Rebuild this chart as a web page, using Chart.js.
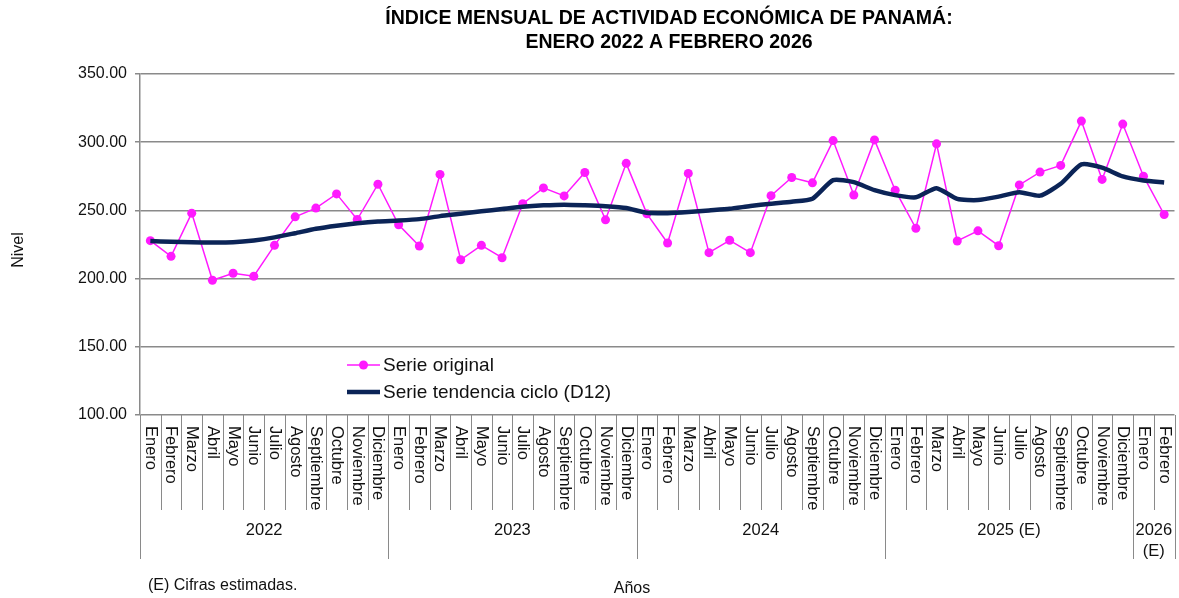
<!DOCTYPE html>
<html>
<head>
<meta charset="utf-8">
<script src="https://cdn.jsdelivr.net/npm/chart.js@4"></script>
<style>
  html, body { margin: 0; padding: 0; background: #fff; }
  #wrap { width: 1179px; height: 598px; }
</style>
</head>
<body>
<div id="wrap"><canvas id="graficoImae" width="1179" height="598"></canvas></div>
<script>
// Meses y años del eje X
const meses = ['Enero', 'Febrero', 'Marzo', 'Abril', 'Mayo', 'Junio', 'Julio', 'Agosto',
    'Septiembre', 'Octubre', 'Noviembre', 'Diciembre'];
const anios = [['2022'], ['2023'], ['2024'], ['2025 (E)'], ['2026', '(E)']];
const mesesPorAnio = [12, 12, 12, 12, 2];

// Valores
const serieOriginal = [
    227.8, 216.3, 248.0, 198.8, 203.9, 201.7, 224.4, 245.3, 251.7, 262.1, 243.3, 269.2,
    239.5, 223.9, 276.4, 213.8, 224.4, 215.3, 254.9, 266.5, 260.6, 277.8, 243.1, 284.5,
    247.5, 226.1, 277.1, 219.0, 228.1, 219.0, 260.8, 274.1, 270.2, 301.2, 261.3, 301.7,
    264.8, 236.9, 298.8, 227.6, 235.0, 224.1, 268.7, 278.1, 283.0, 315.5, 272.7, 313.3,
    275.1, 247.0
];
const serieTendencia = [
    227.5, 227.0, 226.6, 226.5, 226.7, 228.0, 230.2, 233.3, 236.5, 238.8, 240.6, 241.9,
    242.6, 243.6, 245.8, 247.5, 249.3, 251.0, 252.7, 253.7, 254.2, 253.7, 253.0, 251.7,
    248.2, 248.0, 248.8, 250.0, 251.2, 253.2, 254.9, 256.4, 258.6, 272.2, 270.7, 264.8,
    261.2, 259.6, 266.3, 258.4, 257.6, 260.1, 263.3, 260.8, 269.5, 283.7, 281.3, 274.9,
    271.9, 270.4
];

const categorias = [];
mesesPorAnio.forEach(n => {
    for (let i = 0; i < n; i++) categorias.push(meses[i]);
});

const FUENTE = '"Liberation Sans", Arial, sans-serif';
const COLOR_TEXTO = '#111';
const COLOR_LINEAS = '#8a8a8a';

// Dibuja titulo, etiquetas del eje X, leyenda y notas
const textosExtra = {
    id: 'textosExtra',
    afterDraw(chart) {
        const ctx = chart.ctx;
        const x = chart.scales.x;
        const area = chart.chartArea;
        const ancho = x.getPixelForValue(1) - x.getPixelForValue(0);
        ctx.save();

        // titulo
        ctx.fillStyle = '#000';
        ctx.font = 'bold 19.5px ' + FUENTE;
        ctx.textAlign = 'center';
        ctx.textBaseline = 'middle';
        ctx.fillText('ÍNDICE MENSUAL DE ACTIVIDAD ECONÓMICA DE PANAMÁ:', 669, 19);
        ctx.fillText('ENERO 2022 A FEBRERO 2026', 669, 43);

        // titulo eje Y
        ctx.fillStyle = COLOR_TEXTO;
        ctx.font = '16px ' + FUENTE;
        ctx.save();
        ctx.translate(19, 250);
        ctx.rotate(-Math.PI / 2);
        ctx.fillText('Nivel', 0, 0);
        ctx.restore();

        // separadores y meses
        ctx.strokeStyle = COLOR_LINEAS;
        ctx.lineWidth = 1;
        ctx.beginPath();
        ctx.moveTo(area.left + 0.5, area.bottom);
        ctx.lineTo(area.left + 0.5, 559);
        ctx.stroke();

        ctx.font = '16.5px ' + FUENTE;
        let idx = 0;
        mesesPorAnio.forEach((n, a) => {
            const inicio = x.getPixelForValue(idx) - ancho / 2;
            for (let i = 0; i < n; i++) {
                const cx = x.getPixelForValue(idx + i);
                const fin = cx + ancho / 2;
                const ultimo = i === n - 1;
                ctx.beginPath();
                ctx.moveTo(Math.round(fin) + 0.5, area.bottom);
                ctx.lineTo(Math.round(fin) + 0.5, ultimo ? 559 : 510);
                ctx.stroke();

                ctx.save();
                ctx.translate(cx, 426);
                ctx.rotate(Math.PI / 2);
                ctx.textAlign = 'left';
                ctx.textBaseline = 'middle';
                ctx.fillText(categorias[idx + i], 0, 0);
                ctx.restore();
            }
            const fin = x.getPixelForValue(idx + n - 1) + ancho / 2;
            const lineas = anios[a];
            ctx.textAlign = 'center';
            ctx.textBaseline = 'middle';
            lineas.forEach((t, k) => {
                const y = lineas.length === 1 ? 530 : 530 + k * 21;
                ctx.fillText(t, (inicio + fin) / 2, y);
            });
            idx += n;
        });

        // notas inferiores
        ctx.font = '16px ' + FUENTE;
        ctx.textAlign = 'left';
        ctx.fillText('(E) Cifras estimadas.', 148, 586);
        ctx.textAlign = 'center';
        ctx.fillText('Años', 632, 589);

        // leyenda
        const ds = chart.data.datasets;
        const filas = [365, 392];
        ctx.font = '19px ' + FUENTE;
        ds.forEach((d, i) => {
            const y = filas[i];
            ctx.strokeStyle = d.borderColor;
            ctx.lineWidth = d.borderWidth;
            ctx.beginPath();
            ctx.moveTo(347, y);
            ctx.lineTo(380, y);
            ctx.stroke();
            if (d.pointRadius > 0) {
                ctx.fillStyle = d.pointBackgroundColor;
                ctx.beginPath();
                ctx.arc(363.5, y, d.pointRadius, 0, Math.PI * 2);
                ctx.fill();
            }
            ctx.fillStyle = COLOR_TEXTO;
            ctx.textAlign = 'left';
            ctx.textBaseline = 'middle';
            ctx.fillText(d.label, 383, y + 1);
        });

        ctx.restore();
    }
};

const ctx = document.getElementById('graficoImae').getContext('2d');
window.graficoImae = new Chart(ctx, {
    type: 'line',
    data: {
        labels: categorias,
        datasets: [{
            label: 'Serie original',
            data: serieOriginal,
            borderColor: '#ff1aff',
            backgroundColor: '#ff1aff',
            pointBackgroundColor: '#ff1aff',
            pointBorderWidth: 0,
            pointRadius: 4.5,
            borderWidth: 1.5,
            tension: 0,
            order: 2
        }, {
            label: 'Serie tendencia ciclo (D12)',
            data: serieTendencia,
            borderColor: '#0b2457',
            backgroundColor: '#0b2457',
            pointRadius: 0,
            borderWidth: 4.5,
            tension: 0.2,
            order: 1
        }]
    },
    options: {
        responsive: false,
        animation: false,
        layout: { padding: { top: 74, right: 1, left: 0, bottom: 0 } },
        plugins: {
            legend: { display: false },
            title: { display: false },
            tooltip: { enabled: false }
        },
        scales: {
            x: {
                type: 'category',
                offset: true,
                grid: { display: false },
                border: { display: false },
                ticks: { display: false },
                afterFit: s => { s.height = 183; }
            },
            y: {
                min: 100,
                max: 350,
                ticks: {
                    stepSize: 50,
                    padding: 8,
                    color: COLOR_TEXTO,
                    font: { family: FUENTE, size: 16 },
                    callback: v => v.toFixed(2)
                },
                grid: { color: COLOR_LINEAS, lineWidth: 1.5, tickLength: 5 },
                border: { color: COLOR_LINEAS, width: 1.5 },
                afterFit: s => { s.width = 140; }
            }
        }
    },
    plugins: [textosExtra]
});
</script>
</body>
</html>
